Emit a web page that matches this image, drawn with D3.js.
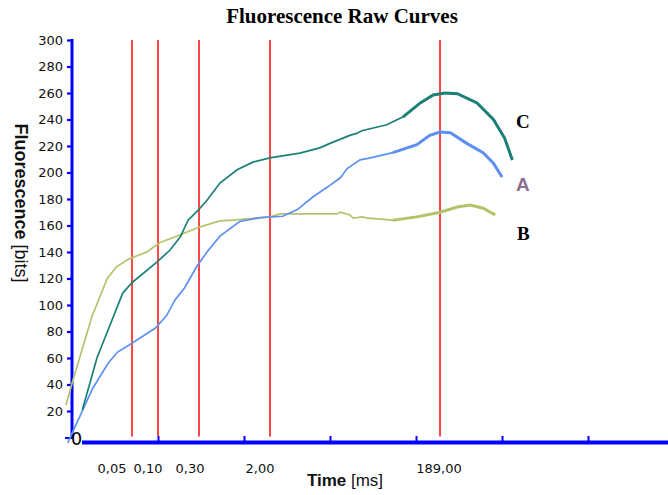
<!DOCTYPE html>
<html><head><meta charset="utf-8">
<script src="https://cdn.jsdelivr.net/npm/d3@7"></script>
<style>body{margin:0;background:#fff}svg{display:block}</style>
</head><body>
<script>
// x values are in axis-tick units (one major tick = 1 unit)
const seriesA = [[-0.05,-4],[0.24,37],[0.42,56],[0.53,64.5],[0.67,70],[0.97,82.6],[1.10,92],[1.20,104],[1.31,113],[1.45,129],[1.57,140],[1.72,152],[1.95,163],[2.19,166],[2.45,167],[2.62,172],[2.80,181.5],[2.97,189],[3.12,196],[3.20,203],[3.35,209.5],[3.47,211],[3.73,215],[4.01,221],[4.16,228],[4.28,230.6],[4.40,230],[4.59,222],[4.78,215],[4.90,207],[5.00,196.6]];
const seriesC = [[0.12,20.8],[0.29,60],[0.41,79.6],[0.59,109],[0.70,117],[0.99,132.5],[1.14,141.5],[1.26,151.4],[1.35,164],[1.47,171.8],[1.57,179],[1.72,192],[1.92,202],[2.11,208],[2.30,211],[2.65,214.6],[2.88,218.6],[3.00,222],[3.23,228],[3.31,229.5],[3.37,231.5],[3.66,236],[3.85,242],[4.05,252.5],[4.20,258.5],[4.34,260],[4.48,259.5],[4.71,252.5],[4.90,240],[5.03,226],[5.12,209.5]];
const seriesB = [[-0.07,24.5],[0.01,43],[0.23,91],[0.41,120],[0.52,129],[0.67,135],[0.87,140],[1.02,147],[1.26,153],[1.49,159],[1.72,163.5],[1.87,164],[2.30,166.5],[2.42,168.7],[3.08,168.7],[3.12,170],[3.23,168],[3.27,165.5],[3.38,166.5],[3.44,165.5],[3.73,164],[4.01,166.5],[4.28,170],[4.48,174],[4.63,175.5],[4.78,173],[4.92,168]];
const markers = [0.698, 1.0, 1.477, 2.302, 4.279];
const xLabels = ["0,05","0,10","0,30","2,00","189,00"];
const xLabelPos = [0.465, 0.884, 1.372, 2.186, 4.267];
const xTicks = [1,2,3,4,5,6];
const yTicks = [20,40,60,80,100,120,140,160,180,200,220,240,260,280,300];
const curveNames = ["C","A","B"];

const W=668,H=495;
const svg=d3.select("body").append("svg").attr("width",W).attr("height",H);
const x=d3.scaleLinear().domain([0,6.93]).range([72,668]);
const y=d3.scaleLinear().domain([0,300]).range([437.5,40]);
const BLUE="#0000ff";

// title
svg.append("text").attr("x",342).attr("y",23).attr("text-anchor","middle")
  .attr("font-family","Liberation Serif, Times New Roman, serif").attr("font-weight","bold")
  .attr("font-size",21).text("Fluorescence Raw Curves");

// red markers
svg.append("g").selectAll("line").data(markers).join("line")
  .attr("x1",d=>x(d)).attr("x2",d=>x(d)).attr("y1",y(300)).attr("y2",436.5)
  .attr("stroke","#ff1a1a").attr("stroke-width",1.6);

// y axis
const ya=svg.append("g").attr("transform","translate(72,0)")
  .call(d3.axisLeft(y).tickValues(yTicks).tickSize(5).tickPadding(4));
ya.select(".domain").remove();
ya.selectAll(".tick line").attr("stroke",BLUE).attr("stroke-width",2.2);
ya.selectAll(".tick text").attr("font-family","DejaVu Sans, sans-serif").attr("font-size",13).attr("fill","#111");
svg.append("line").attr("x1",72).attr("x2",72).attr("y1",39).attr("y2",y(0)+1).attr("stroke",BLUE).attr("stroke-width",3);
svg.append("line").attr("x1",65).attr("x2",72).attr("y1",y(0)+0.5).attr("y2",y(0)+0.5).attr("stroke",BLUE).attr("stroke-width",2);
svg.append("text").attr("x",71).attr("y",445).attr("font-family","DejaVu Sans, sans-serif").attr("font-size",17.5).attr("fill","#000").text("0");

// x axis
const xa=svg.append("g").attr("transform","translate(0,442)")
  .call(d3.axisBottom(x).tickValues(xTicks).tickSize(-6).tickFormat(""));
xa.select(".domain").remove();
xa.selectAll(".tick line").attr("stroke",BLUE).attr("stroke-width",2);
svg.append("line").attr("x1",82).attr("x2",668).attr("y1",442.5).attr("y2",442.5).attr("stroke",BLUE).attr("stroke-width",4);
svg.append("g").selectAll("text").data(xLabels).join("text")
  .attr("x",(d,i)=>x(xLabelPos[i])).attr("y",473).attr("text-anchor","middle")
  .attr("font-family","DejaVu Sans, sans-serif").attr("font-size",13).attr("fill","#111").text(d=>d);

// axis titles
const xt=svg.append("text").attr("x",345).attr("y",486).attr("text-anchor","middle")
  .attr("font-family","Liberation Sans, Arial, sans-serif").attr("font-size",17).attr("fill","#111");
xt.append("tspan").attr("font-weight","bold").text("Time");
xt.append("tspan").text(" [ms]");
const yt=svg.append("text").attr("transform","translate(14.5,203) rotate(90)").attr("text-anchor","middle")
  .attr("font-family","Liberation Sans, Arial, sans-serif").attr("font-size",18).attr("fill","#111");
yt.append("tspan").attr("font-weight","bold").text("Fluorescence");
yt.append("tspan").text(" [bits]");

// curves
const line=d3.line().x(d=>x(d[0])).y(d=>y(d[1])).curve(d3.curveLinear);
const series=[{d:seriesB,c:"#b4c36b"},{d:seriesA,c:"#5e90f2"},{d:seriesC,c:"#1a8078"}];
series.forEach(s=>{
  svg.append("path").attr("d",line(s.d)).attr("fill","none").attr("stroke",s.c).attr("stroke-width",1.7);
  svg.append("path").attr("d",line(s.d.filter(p=>p[0]>=3.7))).attr("fill","none").attr("stroke",s.c).attr("stroke-width",3);
});

// curve labels
const labelStyles=[
  {f:"Liberation Serif, Times New Roman, serif",c:"#000",bl:128,xp:516},
  {f:"Liberation Sans, Arial, sans-serif",c:"#8a6f8c",bl:191,xp:516},
  {f:"Liberation Serif, Times New Roman, serif",c:"#000",bl:240,xp:517}];
svg.append("g").selectAll("text").data(curveNames).join("text")
  .attr("x",(d,i)=>labelStyles[i].xp).attr("y",(d,i)=>labelStyles[i].bl)
  .attr("font-family",(d,i)=>labelStyles[i].f).attr("font-weight","bold").attr("font-size",19)
  .attr("fill",(d,i)=>labelStyles[i].c).text(d=>d);
</script>
</body></html>
